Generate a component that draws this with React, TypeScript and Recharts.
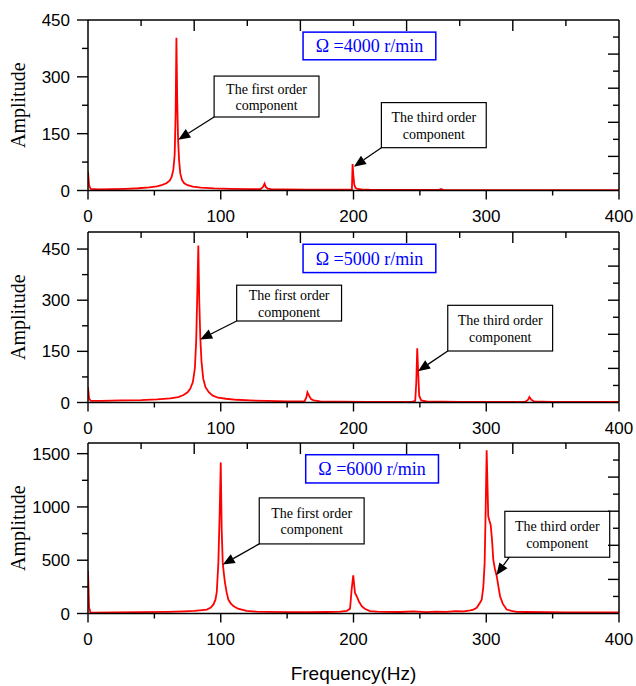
import { LineChart, Line, XAxis, YAxis, ReferenceArea, ReferenceLine } from 'recharts';

const SANS = '"Liberation Sans", Arial, Helvetica, sans-serif';
const SERIF = '"Liberation Serif", "Times New Roman", Times, serif';

// spectrum at 4000 r/min
const FREQ_4000 = [
  0, 0.8, 2, 8, 18, 28, 38, 46, 52, 56,
  59, 61.5, 63, 64.3, 65.3, 66, 66.6, 67.2, 67.8, 68.6,
  69.5, 70.8, 72.5, 75, 79, 85, 95, 108, 122, 130,
  132, 133, 134, 135.5, 138, 148, 165, 185, 197.5, 198.8,
  199.3, 199.9, 200.6, 201.5, 203, 206, 212, 230, 255, 264.5,
  266, 267.5, 280, 310, 350, 400,
];
const AMP_4000 = [
  50, 14, 4, 3, 3.5, 4.5, 6, 8, 11, 15,
  19, 26, 36, 55, 95, 200, 403, 240, 140, 80,
  45, 28, 19, 14, 10, 7.5, 5.5, 4.5, 3.5, 3.5,
  10, 18, 9, 5, 3.5, 3, 2.5, 2, 2, 3,
  70, 40, 15, 7, 4, 3, 2, 1.5, 1.5, 1.5,
  4, 1.5, 1.2, 1, 1, 1,
];

// spectrum at 5000 r/min
const FREQ_5000 = [
  0, 0.8, 2, 10, 25, 40, 52, 62, 68, 72,
  75, 77, 79, 80.5, 81.5, 82.4, 83.1, 83.8, 84.6, 85.5,
  86.8, 88.5, 91, 94, 98, 104, 112, 122, 135, 150,
  160, 163, 164.5, 165.3, 166.5, 168, 170, 175, 190, 210,
  230, 244, 246.5, 247.3, 248, 248.7, 249.5, 251, 255, 280,
  320, 329.5, 331.5, 332.5, 334, 336, 350, 380, 400,
];
const AMP_5000 = [
  45, 12, 5, 5, 6, 7, 9, 12, 16, 22,
  30, 40, 60, 100, 180, 330, 460, 300, 190, 120,
  70, 45, 30, 20, 14, 11, 8, 6, 4.5, 3.5,
  3, 3, 15, 30, 20, 10, 6, 3.5, 2.5, 2,
  2, 2, 5, 60, 159, 90, 20, 6, 3, 2,
  2, 2, 8, 16, 8, 3, 2, 1.5, 1.5,
];

// spectrum at 6000 r/min
const FREQ_6000 = [
  0, 0.8, 1.8, 6, 20, 40, 60, 72, 80, 86,
  89.5, 92.5, 94.5, 96, 97, 98.2, 99.2, 100, 100.7, 101.5,
  102.3, 103.2, 104.4, 105.7, 107.5, 109.5, 113, 119.5, 127, 135,
  150, 165, 180, 190, 195, 197.4, 198.6, 199.8, 201.1, 202.4,
  204.2, 206.2, 208.5, 212.4, 218, 225, 235, 245, 255, 262,
  270, 277, 283, 288, 290.3, 292.8, 295.3, 296.6, 297.8, 298.8,
  299.6, 300.3, 301.5, 302.4, 303.3, 304.3, 305.3, 306.5, 307.9, 309.2,
  310.4, 312.5, 315.4, 319, 323, 330, 345, 360, 380, 400,
];
const AMP_6000 = [
  400, 60, 10, 8, 10, 12, 15, 20, 25, 32,
  37, 55, 85, 130, 200, 475, 950, 1418, 787, 475,
  380, 288, 200, 131, 95, 69, 45, 25, 18, 15,
  12, 12, 14, 17, 25, 45, 225, 359, 194, 162,
  110, 69, 45, 22, 18, 15, 14, 20, 13, 18,
  15, 22, 20, 30, 37, 53, 100, 131, 250, 475,
  1000, 1531, 912, 870, 834, 700, 506, 420, 350, 250,
  162, 90, 37, 25, 15, 14, 12, 11, 10, 10,
];

const X_TICKS = [0, 50, 100, 150, 200, 250, 300, 350, 400];
const X_LABELS = [0, 100, 200, 300, 400];
const TOP_TICKS = [40, 80, 120, 160, 200, 240, 280, 320, 360];
const TOP_MAJOR = [80, 160, 240, 320];

const Y_TICKS_450 = [0, 75, 150, 225, 300, 375, 450];
const Y_LABELS_450 = [0, 150, 300, 450];
const RIGHT_TICKS_450 = [45, 90, 135, 180, 225, 270, 315, 360, 405];
const RIGHT_MAJOR_450 = [90, 180, 270, 360];
const RIGHT_TICKS_500 = [50, 100, 150, 200, 250, 300, 350, 400, 450];
const RIGHT_MAJOR_500 = [100, 200, 300, 400];
const Y_TICKS_1600 = [0, 250, 500, 750, 1000, 1250, 1500];
const Y_LABELS_1600 = [0, 500, 1000, 1500];
const RIGHT_TICKS_1600 = [160, 320, 480, 640, 800, 960, 1120, 1280, 1440];
const RIGHT_MAJOR_1600 = [320, 640, 960, 1280];

const FIRST = ['The first order', 'component'];
const THIRD = ['The third order', 'component'];

const AXIS = { stroke: '#000', strokeWidth: 1.5 };

const bottomTick = (labels: number[]) => (p: any) => {
  const major = labels.includes(p.payload.value);
  return (
    <g>
      <line x1={p.x} x2={p.x} y1={p.y} y2={p.y + (major ? 9 : 5)} stroke="#000" strokeWidth={1.4} />
      {major && (
        <text x={p.x} y={p.y + 31} textAnchor="middle" fontFamily={SANS} fontSize={17} fill="#000">
          {p.payload.value}
        </text>
      )}
    </g>
  );
};

const leftTick = (labels: number[]) => (p: any) => {
  const major = labels.includes(p.payload.value);
  return (
    <g>
      <line x1={p.x - (major ? 11 : 6)} x2={p.x} y1={p.y} y2={p.y} stroke="#000" strokeWidth={1.4} />
      {major && (
        <text x={p.x - 18} y={p.y + 6} textAnchor="end" fontFamily={SANS} fontSize={17} fill="#000">
          {p.payload.value}
        </text>
      )}
    </g>
  );
};

const topTick = (majors: number[]) => (p: any) => {
  const major = majors.includes(p.payload.value);
  return <line x1={p.x} x2={p.x} y1={p.y} y2={p.y + (major ? 11 : 6)} stroke="#000" strokeWidth={1.4} />;
};

const rightTick = (majors: number[]) => (p: any) => {
  const major = majors.includes(p.payload.value);
  return <line x1={p.x - (major ? 11 : 6)} x2={p.x} y1={p.y} y2={p.y} stroke="#000" strokeWidth={1.4} />;
};

const noteBox = (lines: string[]) => (p: any) => {
  const cx = p.x + p.width / 2;
  const cy = p.y + p.height / 2;
  return (
    <g>
      <rect x={p.x} y={p.y} width={p.width} height={p.height} fill="#fff" stroke="#000" strokeWidth={1.2} />
      <text x={cx} y={cy - 3} textAnchor="middle" fontFamily={SERIF} fontSize={14} fill="#000">{lines[0]}</text>
      <text x={cx} y={cy + 13.5} textAnchor="middle" fontFamily={SERIF} fontSize={14} fill="#000">{lines[1]}</text>
    </g>
  );
};

const titleBox = (label: string) => (p: any) => (
  <g>
    <rect x={p.x} y={p.y} width={p.width} height={p.height} fill="#fff" stroke="#0000ff" strokeWidth={1.5} />
    <text x={p.x + p.width / 2} y={p.y + p.height / 2 + 6.5} textAnchor="middle" fontFamily={SERIF} fontSize={18} fill="#0000ff">
      {label}
    </text>
  </g>
);

// line from the box to the peak, with a filled head at the tip
const arrow = (p: any) => {
  const dx = p.x2 - p.x1;
  const dy = p.y2 - p.y1;
  const len = Math.hypot(dx, dy) || 1;
  const ux = dx / len;
  const uy = dy / len;
  const bx = p.x2 - ux * 12;
  const by = p.y2 - uy * 12;
  const pts = `${p.x2},${p.y2} ${bx - uy * 5},${by + ux * 5} ${bx + uy * 5},${by - ux * 5}`;
  return (
    <g>
      <line x1={p.x1} y1={p.y1} x2={bx} y2={by} stroke="#000" strokeWidth={1.3} />
      <polygon points={pts} fill="#000" />
    </g>
  );
};

type Note = { lines: string[]; x: [number, number]; y: [number, number]; from: [number, number]; tip: [number, number] };

const panels = [
  {
    top: 0,
    freq: FREQ_4000,
    amp: AMP_4000,
    yMax: 450,
    yTicks: Y_TICKS_450,
    yLabels: Y_LABELS_450,
    rTicks: RIGHT_TICKS_450,
    rMajor: RIGHT_MAJOR_450,
    title: 'Ω =4000 r/min',
    titleX: [162, 262],
    titleY: [345, 418],
    notes: [
      { lines: FIRST, x: [95, 174], y: [194, 302], from: [95, 194], tip: [68, 134] },
      { lines: THIRD, x: [221, 300], y: [113, 232], from: [221, 113], tip: [200.3, 63] },
    ] as Note[],
  },
  {
    top: 211.7,
    freq: FREQ_5000,
    amp: AMP_5000,
    yMax: 500,
    yTicks: Y_TICKS_450,
    yLabels: Y_LABELS_450,
    rTicks: RIGHT_TICKS_500,
    rMajor: RIGHT_MAJOR_500,
    title: 'Ω =5000 r/min',
    titleX: [162, 262],
    titleY: [381, 464],
    notes: [
      { lines: FIRST, x: [112, 191], y: [239, 344], from: [112, 239], tip: [84.5, 185] },
      { lines: THIRD, x: [271, 350], y: [151, 285], from: [271, 151], tip: [248.6, 92] },
    ] as Note[],
  },
  {
    top: 423.3,
    freq: FREQ_6000,
    amp: AMP_6000,
    yMax: 1600,
    yTicks: Y_TICKS_1600,
    yLabels: Y_LABELS_1600,
    rTicks: RIGHT_TICKS_1600,
    rMajor: RIGHT_MAJOR_1600,
    title: 'Ω =6000 r/min',
    titleX: [164, 264],
    titleY: [1225, 1490],
    notes: [
      { lines: FIRST, x: [129, 208], y: [653, 1085], from: [129, 653], tip: [101.5, 460] },
      { lines: THIRD, x: [314, 393], y: [528, 959], from: [317.4, 528], tip: [307.6, 360] },
    ] as Note[],
  },
];

const PLOT_H = 170.5;

function Panel({ cfg, last }: { cfg: (typeof panels)[number]; last: boolean }) {
  const data = cfg.freq.map((f, i) => ({ freq: f, amp: cfg.amp[i] }));
  const bottomH = last ? 72 : 40;
  return (
    <div style={{ position: 'absolute', left: 0, top: cfg.top }}>
      <LineChart width={636} height={20 + PLOT_H + bottomH} data={data} margin={{ top: 0, right: 0, bottom: 0, left: 0 }}>
        <XAxis
          xAxisId="b"
          dataKey="freq"
          type="number"
          domain={[0, 400]}
          allowDataOverflow
          ticks={X_TICKS}
          interval={0}
          tickSize={0}
          tickMargin={0}
          tickLine={false}
          tick={bottomTick(X_LABELS)}
          axisLine={AXIS}
          height={bottomH}
          label={
            last
              ? (p: any) => (
                  <text
                    x={p.viewBox.x + p.viewBox.width / 2}
                    y={p.viewBox.y + 66}
                    textAnchor="middle"
                    fontFamily={SANS}
                    fontSize={19}
                    fill="#000"
                  >
                    Frequency(Hz)
                  </text>
                )
              : undefined
          }
        />
        <XAxis
          xAxisId="t"
          orientation="top"
          dataKey="freq"
          type="number"
          domain={[0, 400]}
          allowDataOverflow
          ticks={TOP_TICKS}
          interval={0}
          tickSize={0}
          tickMargin={0}
          tickLine={false}
          tick={topTick(TOP_MAJOR)}
          axisLine={AXIS}
          height={20}
        />
        <YAxis
          yAxisId="l"
          type="number"
          domain={[0, cfg.yMax]}
          allowDataOverflow
          ticks={cfg.yTicks}
          interval={0}
          tickSize={0}
          tickMargin={0}
          tickLine={false}
          tick={leftTick(cfg.yLabels)}
          axisLine={AXIS}
          width={88}
          label={(p: any) => {
            const cy = p.viewBox.y + p.viewBox.height / 2;
            return (
              <text
                x={25}
                y={cy}
                transform={`rotate(-90, 25, ${cy})`}
                textAnchor="middle"
                fontFamily={SERIF}
                fontSize={20}
                fill="#000"
              >
                Amplitude
              </text>
            );
          }}
        />
        <YAxis
          yAxisId="r"
          orientation="right"
          type="number"
          domain={[0, cfg.yMax]}
          allowDataOverflow
          ticks={cfg.rTicks}
          interval={0}
          tickSize={0}
          tickMargin={0}
          tickLine={false}
          tick={rightTick(cfg.rMajor)}
          axisLine={AXIS}
          width={17}
        />
        <Line
          xAxisId="b"
          yAxisId="l"
          dataKey="amp"
          type="linear"
          stroke="#ff0000"
          strokeWidth={1.8}
          dot={false}
          isAnimationActive={false}
        />
        <ReferenceArea
          xAxisId="b"
          yAxisId="l"
          x1={cfg.titleX[0]}
          x2={cfg.titleX[1]}
          y1={cfg.titleY[0]}
          y2={cfg.titleY[1]}
          shape={titleBox(cfg.title)}
        />
        {cfg.notes.map((n, i) => (
          <ReferenceArea
            key={`box${i}`}
            xAxisId="b"
            yAxisId="l"
            x1={n.x[0]}
            x2={n.x[1]}
            y1={n.y[0]}
            y2={n.y[1]}
            shape={noteBox(n.lines)}
          />
        ))}
        {cfg.notes.map((n, i) => (
          <ReferenceLine
            key={`arr${i}`}
            xAxisId="b"
            yAxisId="l"
            segment={[
              { x: n.from[0], y: n.from[1] },
              { x: n.tip[0], y: n.tip[1] },
            ]}
            shape={arrow}
          />
        ))}
      </LineChart>
    </div>
  );
}

export default function App() {
  return (
    <div style={{ position: 'absolute', left: 0, top: 0, width: 636, height: 686, background: '#fff' }}>
      {panels.map((cfg, i) => (
        <Panel key={i} cfg={cfg} last={i === panels.length - 1} />
      ))}
    </div>
  );
}
